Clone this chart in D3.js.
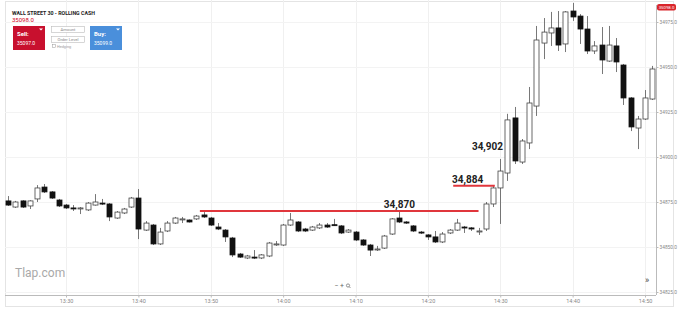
<!DOCTYPE html>
<html>
<head>
<meta charset="utf-8">
<script src="https://cdn.jsdelivr.net/npm/d3@7"></script>
<style>
  body { margin: 0; background: #fff; }
  text { font-family: Roboto, "Open Sans", sans-serif; }
</style>
</head>
<body>
<svg id="chart" width="678" height="312"></svg>
<script>
// 1 minute candles, Wall Street 30
var times = ["13:22","13:23","13:24","13:25","13:26","13:27","13:28","13:29","13:30","13:31",
  "13:32","13:33","13:34","13:35","13:36","13:37","13:38","13:39","13:40","13:41",
  "13:42","13:43","13:44","13:45","13:46","13:47","13:48","13:49","13:50","13:51",
  "13:52","13:53","13:54","13:55","13:56","13:57","13:58","13:59","14:00","14:01",
  "14:02","14:03","14:04","14:05","14:06","14:07","14:08","14:09","14:10","14:11",
  "14:12","14:13","14:14","14:15","14:16","14:17","14:18","14:19","14:20","14:21",
  "14:22","14:23","14:24","14:25","14:26","14:27","14:28","14:29","14:30","14:31",
  "14:32","14:33","14:34","14:35","14:36","14:37","14:38","14:39","14:40","14:41",
  "14:42","14:43","14:44","14:45","14:46","14:47","14:48","14:49","14:50","14:51"];

var opens = [34875.6,34872.2,34875.6,34872.8,34876.7,34883.3,34880.6,34876.1,34873.3,34871.7,
  34871.4,34870.6,34873.3,34874.4,34873.9,34866.1,34868.9,34872.2,34877.2,34859.4,
  34862.2,34851.7,34858.9,34863.3,34865.3,34865.0,34865.6,34867.8,34866.1,34861.1,
  34859.4,34855.0,34846.1,34843.9,34844.4,34843.9,34845.0,34851.5,34851.1,34862.2,
  34863.9,34860.0,34859.4,34860.6,34862.2,34862.4,34861.7,34858.3,34858.3,34853.9,
  34851.1,34848.7,34849.4,34857.2,34866.1,34863.9,34861.7,34858.3,34856.7,34855.6,
  34852.8,34857.8,34859.4,34861.1,34860.6,34858.7,34860.0,34873.9,34882.8,34891.1,
  34921.7,34897.2,34907.8,34928.3,34963.3,34968.9,34971.7,34962.8,34981.1,34978.3,
  34971.1,34958.9,34962.2,34953.3,34961.7,34951.1,34932.8,34916.1,34921.1,34932.2];

var highs = [34878.3,34875.6,34876.0,34876.0,34884.4,34885.0,34881.1,34876.7,34873.9,34873.3,
  34872.2,34875.0,34879.4,34876.7,34874.4,34870.0,34871.7,34877.8,34882.2,34864.4,
  34862.8,34860.6,34864.4,34866.7,34866.7,34865.3,34867.8,34869.4,34866.7,34863.3,
  34860.0,34855.6,34846.7,34845.6,34848.3,34846.1,34852.8,34853.3,34862.8,34868.9,
  34864.4,34860.6,34861.7,34863.3,34863.3,34865.6,34862.2,34860.0,34858.9,34854.4,
  34851.7,34850.6,34856.7,34866.1,34870.0,34864.4,34862.2,34858.9,34857.2,34858.9,
  34858.3,34860.0,34865.6,34861.7,34861.1,34860.6,34875.0,34884.4,34898.9,34924.0,
  34927.8,34910.0,34938.9,34972.8,34977.2,34980.6,34981.1,34981.1,34985.6,34979.4,
  34978.3,34964.4,34972.2,34972.8,34966.1,34951.7,34933.3,34922.8,34937.2,34950.6];

var lows = [34872.8,34871.7,34871.7,34871.1,34875.0,34880.0,34876.7,34872.2,34871.1,34870.0,
  34868.3,34870.0,34873.0,34873.3,34864.4,34865.6,34868.3,34871.7,34854.4,34858.9,
  34851.1,34851.1,34858.3,34862.8,34863.3,34863.6,34865.0,34866.1,34861.7,34859.4,
  34852.8,34844.4,34843.9,34843.3,34843.3,34843.3,34844.4,34850.6,34850.6,34861.7,
  34858.3,34858.3,34858.9,34860.0,34860.6,34861.7,34857.2,34857.8,34853.3,34850.6,
  34845.0,34847.8,34848.9,34856.7,34863.3,34862.8,34858.3,34857.2,34853.9,34852.2,
  34852.2,34857.2,34858.9,34857.8,34858.9,34856.7,34858.9,34872.2,34862.8,34886.7,
  34896.1,34896.1,34904.4,34922.8,34954.4,34961.7,34958.9,34958.3,34975.6,34962.8,
  34957.2,34957.2,34946.1,34952.8,34947.2,34928.9,34914.4,34904.4,34920.6,34931.7];

var closes = [34873.3,34875.0,34872.2,34875.6,34882.8,34880.6,34877.2,34872.8,34871.7,34871.4,
  34871.7,34874.4,34875.0,34874.0,34866.7,34869.4,34871.1,34877.2,34860.0,34863.3,
  34851.7,34858.3,34863.3,34866.1,34865.6,34863.9,34867.2,34866.7,34862.2,34860.0,
  34855.6,34845.6,34844.4,34845.0,34843.9,34845.6,34852.2,34851.7,34862.2,34865.0,
  34858.9,34858.9,34861.1,34862.2,34861.1,34862.2,34857.8,34859.4,34853.9,34851.1,
  34848.3,34848.9,34856.1,34865.6,34863.9,34863.3,34858.9,34857.8,34855.6,34852.8,
  34857.2,34859.4,34863.3,34860.6,34860.0,34858.9,34873.9,34882.8,34892.2,34920.6,
  34897.8,34908.9,34930.0,34965.0,34969.4,34971.7,34962.2,34980.6,34977.8,34971.1,
  34958.9,34961.7,34953.9,34962.2,34952.8,34932.8,34916.7,34921.1,34932.8,34948.9];

var timeTicks = ["13:30","13:40","13:50","14:00","14:10","14:20","14:30","14:40","14:50"];
var priceTicks = [34825, 34850, 34875, 34900, 34925, 34950, 34975];

// hand drawn levels and notes
var levelPrices = [34870, 34884];
var levelStarts = ["13:48:30", "14:23:30"];
var levelEnds = ["14:27:00", "14:29:15"];
var noteTexts = ["34,870", "34,884", "34,902"];
var notePrices = [34870, 34884, 34902];
var noteTimes = ["14:13:55", "14:23:20", "14:26:05"];

var lastPrice = "35098.0";
var sellPrice = "35097.0";
var buyPrice = "35099.0";

var parseTime = d3.timeParse("%H:%M");
var parseTimeS = d3.timeParse("%H:%M:%S");

var svg = d3.select("#chart");
var plotLeft = 5, plotRight = 656, plotTop = 0, plotBottom = 295;

var x = d3.scaleTime()
    .domain([parseTime("13:30"), parseTime("14:50")])
    .range([66, 645]);

var y = d3.scaleLinear()
    .domain([34825, 34975])
    .range([292, 22]);

// frame
svg.append("rect")
    .attr("x", 5.5).attr("y", 1.5)
    .attr("width", 668).attr("height", 305)
    .attr("fill", "#fff")
    .attr("stroke", "#e4e4e4");

var clip = svg.append("defs").append("clipPath").attr("id", "plot");
clip.append("rect")
    .attr("x", plotLeft).attr("y", plotTop)
    .attr("width", plotRight - plotLeft).attr("height", plotBottom - plotTop);

// grid
svg.append("g").selectAll("line")
    .data(timeTicks)
    .join("line")
    .attr("x1", d => Math.round(x(parseTime(d))) + 0.5)
    .attr("x2", d => Math.round(x(parseTime(d))) + 0.5)
    .attr("y1", plotTop).attr("y2", plotBottom)
    .attr("stroke", "#f0f0f0");

svg.append("g").selectAll("line")
    .data(priceTicks)
    .join("line")
    .attr("x1", plotLeft).attr("x2", plotRight)
    .attr("y1", d => Math.round(y(d)) + 0.5)
    .attr("y2", d => Math.round(y(d)) + 0.5)
    .attr("stroke", "#f3f3f3");

// watermark
svg.append("text")
    .attr("x", 15).attr("y", 277)
    .attr("font-size", 12)
    .attr("fill", "#a9a9a9")
    .text("Tlap.com");

// axes
var xAxis = svg.append("g")
    .attr("transform", "translate(0," + (plotBottom + 0.5) + ")")
    .call(d3.axisBottom(x)
      .tickValues(timeTicks.map(parseTime))
      .tickFormat(d3.timeFormat("%H:%M"))
      .tickSize(2)
      .tickSizeOuter(0));
xAxis.select(".domain").attr("d", "M" + plotLeft + ",0H" + plotRight).attr("stroke", "#bbb");
xAxis.selectAll(".tick line").attr("stroke", "#bbb");
xAxis.selectAll(".tick text").attr("font-size", 5.5).attr("fill", "#888").attr("dy", "0.5em");

var yAxis = svg.append("g")
    .attr("transform", "translate(" + (plotRight + 0.5) + ",0)")
    .call(d3.axisRight(y)
      .tickValues(priceTicks)
      .tickFormat(d3.format(".1f"))
      .tickSize(2)
      .tickSizeOuter(0));
yAxis.select(".domain").attr("d", "M0,5V" + plotBottom).attr("stroke", "#bbb");
yAxis.selectAll(".tick line").attr("stroke", "#bbb");
yAxis.selectAll(".tick text").attr("font-size", 4.8).attr("fill", "#888").attr("x", 3);

// candles
var candles = times.map(function(t, i) {
  return {time: parseTime(t), open: opens[i], high: highs[i], low: lows[i], close: closes[i]};
});

var plot = svg.append("g").attr("clip-path", "url(#plot)");

plot.append("g").selectAll("line")
    .data(candles)
    .join("line")
    .attr("x1", d => Math.round(x(d.time)) + 0.5)
    .attr("x2", d => Math.round(x(d.time)) + 0.5)
    .attr("y1", d => y(d.high))
    .attr("y2", d => y(d.low))
    .attr("stroke", "#555")
    .attr("stroke-width", 0.8);

plot.append("g").selectAll("rect")
    .data(candles)
    .join("rect")
    .attr("x", d => Math.round(x(d.time)) - 2)
    .attr("width", 5)
    .attr("y", d => y(Math.max(d.open, d.close)))
    .attr("height", d => Math.max(1, Math.abs(y(d.open) - y(d.close))))
    .attr("fill", d => d.close >= d.open ? "#fff" : "#111")
    .attr("stroke", d => d.close >= d.open ? "#444" : "#111")
    .attr("stroke-width", 0.8);

// red levels
svg.append("g").selectAll("line")
    .data(levelPrices)
    .join("line")
    .attr("x1", (d, i) => x(parseTimeS(levelStarts[i])))
    .attr("x2", (d, i) => x(parseTimeS(levelEnds[i])))
    .attr("y1", d => y(d))
    .attr("y2", d => y(d))
    .attr("stroke", "#e0363c")
    .attr("stroke-width", 2);

svg.append("g").selectAll("text")
    .data(noteTexts)
    .join("text")
    .attr("x", (d, i) => x(parseTimeS(noteTimes[i])))
    .attr("y", (d, i) => y(notePrices[i]) - 3)
    .attr("font-family", "'Open Sans', sans-serif")
    .attr("font-weight", 700)
    .attr("font-size", 10)
    .attr("fill", "#222")
    .text(d => d);

// last price tag
svg.append("rect")
    .attr("x", 657).attr("y", 4)
    .attr("width", 19).attr("height", 6.5)
    .attr("rx", 2)
    .attr("fill", "#d9252b");
svg.append("text")
    .attr("x", 666.5).attr("y", 9)
    .attr("text-anchor", "middle")
    .attr("font-size", 4.3)
    .attr("fill", "#fff")
    .text(lastPrice);

// header widget
svg.append("text")
    .attr("x", 12).attr("y", 15)
    .attr("font-size", 6.2)
    .attr("font-weight", 700)
    .attr("fill", "#222")
    .attr("textLength", 83)
    .attr("lengthAdjust", "spacingAndGlyphs")
    .text("WALL STREET 30 - ROLLING CASH");
svg.append("text")
    .attr("x", 12).attr("y", 22)
    .attr("font-size", 6)
    .attr("fill", "#d0021b")
    .text(lastPrice);

var buttons = [
  {label: "Sell:", price: sellPrice, x: 13, color: "#c8102e"},
  {label: "Buy:", price: buyPrice, x: 90, color: "#4a8fdb"}
];
buttons.forEach(function(b) {
  svg.append("rect")
      .attr("x", b.x).attr("y", 26)
      .attr("width", 32).attr("height", 24)
      .attr("fill", b.color);
  svg.append("text")
      .attr("x", b.x + 4).attr("y", 36)
      .attr("font-size", 6)
      .attr("font-weight", 700)
      .attr("fill", "#fff")
      .text(b.label);
  svg.append("text")
      .attr("x", b.x + 4).attr("y", 45)
      .attr("font-size", 5)
      .attr("fill", "#fff")
      .text(b.price);
  svg.append("path")
      .attr("d", "M" + (b.x + 26) + ",28.5h4l-2,2z")
      .attr("fill", "#fff");
});

["Amount", "Order Level"].forEach(function(t, i) {
  svg.append("rect")
      .attr("x", 51.5).attr("y", 26.5 + i * 10)
      .attr("width", 33).attr("height", 6)
      .attr("fill", "#fff")
      .attr("stroke", "#bbb")
      .attr("stroke-width", 0.6);
  svg.append("text")
      .attr("x", 68).attr("y", 31 + i * 10)
      .attr("text-anchor", "middle")
      .attr("font-size", 4.2)
      .attr("fill", "#888")
      .text(t);
});
svg.append("rect")
    .attr("x", 52.5).attr("y", 44.5)
    .attr("width", 3).attr("height", 3)
    .attr("fill", "#fff")
    .attr("stroke", "#999")
    .attr("stroke-width", 0.5);
svg.append("text")
    .attr("x", 57).attr("y", 47.5)
    .attr("font-size", 3.8)
    .attr("fill", "#999")
    .text("Hedging");

// zoom controls and scroll button
svg.append("text")
    .attr("x", 339).attr("y", 288)
    .attr("text-anchor", "middle")
    .attr("font-size", 7)
    .attr("fill", "#666")
    .text("\u2212  +");
svg.append("circle")
    .attr("cx", 348).attr("cy", 285.5).attr("r", 1.6)
    .attr("fill", "none").attr("stroke", "#666").attr("stroke-width", 0.7);
svg.append("line")
    .attr("x1", 349.2).attr("y1", 286.7).attr("x2", 350.5).attr("y2", 288)
    .attr("stroke", "#666").attr("stroke-width", 0.7);
svg.append("text")
    .attr("x", 647).attr("y", 283)
    .attr("text-anchor", "middle")
    .attr("font-size", 9)
    .attr("fill", "#444")
    .text("\u00bb");
</script>
</body>
</html>
